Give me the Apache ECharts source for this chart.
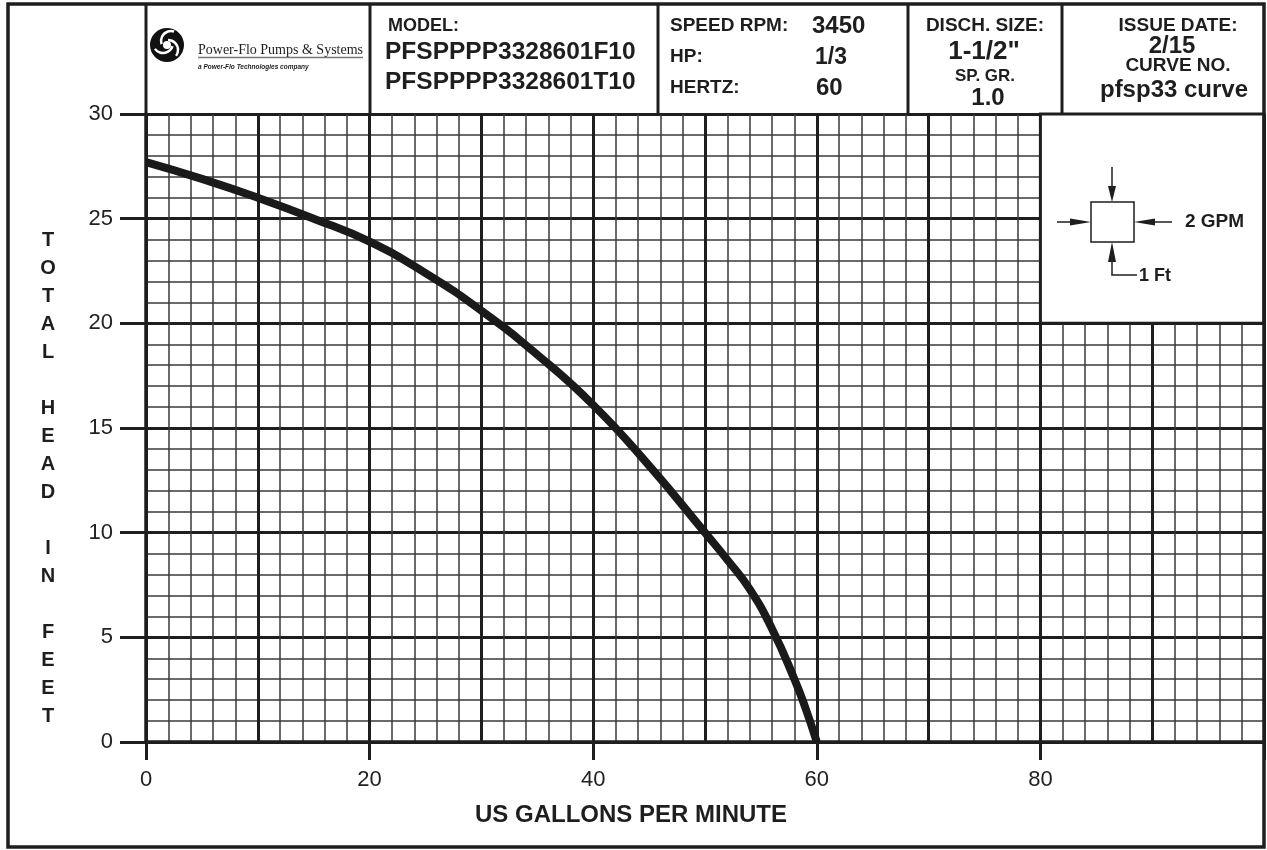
<!DOCTYPE html>
<html>
<head>
<meta charset="utf-8">
<script src="https://cdn.jsdelivr.net/npm/echarts@6/dist/echarts.min.js"></script>
<style>
html,body{margin:0;padding:0;background:#fff;}
#chart{width:1267px;height:850px;}
</style>
</head>
<body>
<div id="chart"></div>
<script>
// ---- data ----
var flowGpm = [0, 5, 10, 15, 20, 25, 30, 35, 40, 45, 50, 52, 54, 56, 58, 59, 60];
var headFt  = [27.7, 26.9, 26.0, 25.0, 23.9, 22.4, 20.6, 18.5, 16.1, 13.2, 10.0, 8.7, 7.3, 5.4, 3.0, 1.6, 0];
var xTickLabels = ['0', '20', '40', '60', '80'];
var yTickLabels = ['0', '5', '10', '15', '20', '25', '30'];
var headerTexts = {
  model: ['PFSPPPP3328601F10', 'PFSPPPP3328601T10'],
  speed: '3450', hp: '1/3', hertz: '60',
  disch: '1-1/2"', spgr: '1.0',
  issue: '2/15', curve: 'pfsp33 curve'
};
var scaleBox = { flow: '2 GPM', head: '1 Ft' };

var curveData = flowGpm.map(function (g, i) { return [g, headFt[i]]; });

var C = '#1e1e1e';
var SANS = '"Liberation Sans", Arial, Helvetica, sans-serif';
function txt(x, y, s, size, opts) {
  opts = opts || {};
  return {
    type: 'text', x: x, y: y, z: 100,
    style: {
      text: s,
      font: (opts.weight || 'bold') + ' ' + size + 'px ' + (opts.family || SANS),
      fill: opts.fill || C,
      textAlign: opts.align || 'left',
      textVerticalAlign: 'middle',
      lineHeight: opts.lineHeight
    }
  };
}
function ln(x1, y1, x2, y2, w, col) {
  return { type: 'line', z: 100, shape: { x1: x1, y1: y1, x2: x2, y2: y2 }, style: { stroke: col || C, lineWidth: w || 3 } };
}
function tri(pts) {
  return { type: 'polygon', z: 100, shape: { points: pts }, style: { fill: C } };
}

var graphics = [
  // outer frame
  { type: 'rect', z: 100, shape: { x: 8, y: 4, width: 1256, height: 843 }, style: { fill: 'none', stroke: C, lineWidth: 3.5 } },
  // header dividers
  ln(146, 4, 146, 114, 3), ln(370, 4, 370, 114, 3), ln(658, 4, 658, 114, 3),
  ln(908, 4, 908, 114, 3), ln(1062, 4, 1062, 114, 3),
  // logo
  { type: 'circle', z: 100, shape: { cx: 167, cy: 45, r: 17 }, style: { fill: '#111' } },
  { type: 'arc', z: 101, shape: { cx: 171, cy: 41, r: 10, startAngle: Math.PI * 0.9, endAngle: Math.PI * 1.6 }, style: { stroke: '#fff', lineWidth: 2.5, fill: 'none' } },
  { type: 'arc', z: 101, shape: { cx: 163, cy: 43, r: 10, startAngle: Math.PI * 0.1, endAngle: Math.PI * 0.8 }, style: { stroke: '#fff', lineWidth: 2.5, fill: 'none' } },
  { type: 'arc', z: 101, shape: { cx: 168, cy: 50, r: 10, startAngle: Math.PI * 1.5, endAngle: Math.PI * 2.2 }, style: { stroke: '#fff', lineWidth: 2.5, fill: 'none' } },
  { type: 'circle', z: 101, shape: { cx: 167, cy: 45, r: 4 }, style: { fill: '#fff' } },
  txt(198, 50, 'Power-Flo Pumps & Systems', 14, { weight: 'normal', family: '"Liberation Serif", "Times New Roman", serif' }),
  ln(198, 57.5, 363, 57.5, 1.5, '#777'),
  txt(198, 67, 'a Power-Flo Technologies company', 6.5, { weight: 'italic bold' }),
  // model box
  txt(388, 26, 'MODEL:', 18),
  txt(385, 52, headerTexts.model[0], 24.5),
  txt(385, 82, headerTexts.model[1], 24.5),
  // speed box
  txt(670, 26, 'SPEED RPM:', 19),
  txt(812, 26, headerTexts.speed, 24),
  txt(670, 57, 'HP:', 19),
  txt(815, 58, headerTexts.hp, 23),
  txt(670, 88, 'HERTZ:', 19),
  txt(816, 88, headerTexts.hertz, 24),
  // discharge box
  txt(985, 26, 'DISCH. SIZE:', 19, { align: 'center' }),
  txt(984, 52, headerTexts.disch, 26, { align: 'center' }),
  txt(985, 76, 'SP. GR.', 17, { align: 'center' }),
  txt(988, 98, headerTexts.spgr, 24, { align: 'center' }),
  // issue box
  txt(1178, 26, 'ISSUE DATE:', 19, { align: 'center' }),
  txt(1172, 46, headerTexts.issue, 24, { align: 'center' }),
  txt(1178, 66, 'CURVE NO.', 19, { align: 'center' }),
  txt(1174, 90, headerTexts.curve, 24, { align: 'center' }),
  // scale box
  { type: 'rect', z: 100, shape: { x: 1091, y: 202, width: 43, height: 40 }, style: { fill: '#fff', stroke: C, lineWidth: 1.5 } },
  ln(1112, 167, 1112, 190, 1.5), tri([[1108, 186], [1116, 186], [1112, 202]]),
  ln(1057, 222, 1075, 222, 1.5), tri([[1070, 218.5], [1070, 225.5], [1091, 222]]),
  ln(1155, 222, 1172, 222, 1.5), tri([[1155, 218.5], [1155, 225.5], [1134, 222]]),
  ln(1112, 255, 1112, 275, 1.5), ln(1111.3, 275, 1137, 275, 1.5), tri([[1108, 262], [1116, 262], [1112, 242]]),
  txt(1185, 222, scaleBox.flow, 19),
  txt(1139, 276, scaleBox.head, 18),
  // axis titles
  txt(48, 478, 'T\nO\nT\nA\nL\n\nH\nE\nA\nD\n\nI\nN\n\nF\nE\nE\nT', 20, { align: 'center', lineHeight: 28 }),
  txt(631, 815, 'US GALLONS PER MINUTE', 24, { align: 'center' })
];

var chart = echarts.init(document.getElementById('chart'), null, { renderer: 'canvas' });
chart.setOption({
  backgroundColor: '#fff',
  animation: false,
  grid: { left: 146, top: 114, width: 1120, height: 628, containLabel: false },
  xAxis: [
    {
      type: 'value', min: 0, max: 100, interval: 10, position: 'bottom',
      axisLine: { show: true, onZero: false, lineStyle: { color: C, width: 3.5 } },
      axisTick: { show: false }, axisLabel: { show: false },
      splitLine: { show: true, lineStyle: { color: C, width: 3 } },
      minorTick: { show: false, splitNumber: 5 },
      minorSplitLine: { show: true, lineStyle: { color: '#3a3a3a', width: 1.5 } }
    },
    {
      type: 'value', min: 0, max: 100, interval: 20, position: 'bottom', offset: 0,
      axisLine: { show: false },
      axisTick: { show: true, length: 18, lineStyle: { color: C, width: 3 } },
      splitLine: { show: false },
      axisLabel: {
        show: true, margin: 27, fontSize: 22, color: '#222', fontFamily: SANS,
        formatter: function (v) { var i = v / 20; return xTickLabels[i] !== undefined ? xTickLabels[i] : ''; }
      }
    }
  ],
  yAxis: [{
    type: 'value', min: 0, max: 30, interval: 5,
    axisLine: { show: true, onZero: false, lineStyle: { color: C, width: 3.5 } },
    axisTick: { show: true, length: 26, lineStyle: { color: C, width: 3 } },
    axisLabel: {
      show: true, margin: 33, fontSize: 22, color: '#222', fontFamily: SANS,
      formatter: function (v) { return yTickLabels[v / 5]; }
    },
    splitLine: { show: true, lineStyle: { color: C, width: 3 } },
    minorTick: { show: false, splitNumber: 5 },
    minorSplitLine: { show: true, lineStyle: { color: '#3a3a3a', width: 1.5 } }
  }],
  series: [{
    type: 'line', xAxisIndex: 0, yAxisIndex: 0,
    data: curveData, smooth: 0.5, showSymbol: false, symbol: 'none',
    lineStyle: { color: '#1a1a1a', width: 8, cap: 'butt', join: 'round' },
    clip: false,
    markArea: {
      silent: true,
      itemStyle: { color: '#fff', borderColor: C, borderWidth: 3 },
      data: [[{ coord: [80, 30] }, { coord: [100, 20] }]]
    }
  }],
  graphic: graphics
});
</script>
</body>
</html>
